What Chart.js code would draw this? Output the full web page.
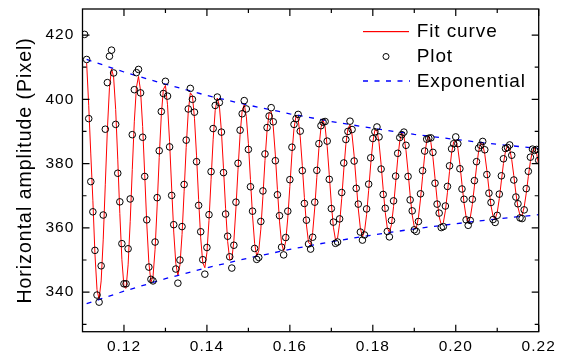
<!DOCTYPE html>
<html>
<head>
<meta charset="utf-8">
<script src="https://cdn.jsdelivr.net/npm/chart.js@4.4.1/dist/chart.umd.min.js"></script>
<style>
html,body{margin:0;padding:0;background:#ffffff;}
#wrap{width:567px;height:356px;}
</style>
</head>
<body>
<div id="wrap"><canvas id="c" width="567" height="356"></canvas></div>
<script>
// ---- data ----
const PLOT_T0 = 0.1105;   // time of first measured sample (s)
const FIT_T0 = 0.111;     // time where the fit curve starts (s)
const SAMPLE_DT = 0.0005; // sampling interval (s)

const plotY = [
  420.2,412.4,394.0,374.4,365.0,353.0,339.1,336.9,348.2,
  364.0,390.7,405.2,413.4,415.3,408.2,392.2,377.0,368.1,355.1,
  342.6,342.6,353.5,369.0,389.0,403.0,408.3,409.3,402.0,388.2,
  376.0,362.5,347.8,344.0,343.5,355.6,369.4,384.0,396.2,401.8,
  405.6,401.0,385.2,370.1,361.0,347.2,342.8,350.0,360.4,373.5,
  387.3,397.0,403.4,400.0,396.0,380.6,367.0,358.8,350.1,345.6,
  353.9,364.1,377.5,390.9,398.1,400.7,399.0,389.8,377.2,364.3,
  357.4,351.0,347.5,354.6,368.0,380.1,390.4,395.5,399.6,397.0,
  384.4,372.8,365.2,353.6,350.2,350.8,362.0,371.5,383.0,391.2,
  394.8,397.4,393.0,380.9,370.3,363.8,354.0,351.6,357.0,365.2,
  375.0,385.1,392.2,394.0,395.3,390.1,377.8,367.6,362.4,355.0,
  353.4,357.1,368.0,377.9,386.2,391.8,392.9,393.1,387.0,375.1,
  366.0,361.8,355.2,355.6,362.8,371.0,380.2,387.5,390.0,393.2,
  390.6,380.8,372.3,367.4,358.7,356.2,357.8,365.9,373.6,381.8,
  387.8,389.9,391.4,388.3,378.3,370.4,366.1,358.9,357.2,362.3,
  368.4,376.1,383.2,388.1,389.0,389.8,385.7,376.0,368.7,365.3,
  359.4,358.9,362.0,370.6,377.8,383.9,387.6,387.9,388.0,383.5,
  373.9,367.4,364.6,360.1,360.4,366.8,372.9,379.3,384.6,386.2,
  388.3,386.2,378.4,372.1,368.9,362.5,360.8,362.3,368.9,374.7,
  380.6,384.8,385.7,386.9,384.3,376.6,370.8,367.9,362.6,361.7,
  363.9,370.5,376.2,381.5,384.7,385.0,385.8,382.6,374.9,369.6,
  367.5,363.1,362.9,365.6,372.2,377.6,382.0,384.5,384.1,384.4,
  381.0
];

const fitY = [
  411.3,398.0,383.0,368.6,351.9,340.8,337.8,343.5,
  356.5,373.6,390.6,403.6,409.5,407.0,396.8,381.4,364.5,350.1,
  341.7,341.2,348.5,361.9,378.1,393.2,403.7,407.1,402.7,391.6,
  376.6,361.2,349.2,343.2,344.8,353.3,366.8,381.9,395.0,403.1,
  404.3,398.3,386.8,372.4,358.7,348.9,345.2,348.5,357.9,371.2,
  385.0,396.1,402.0,401.2,394.1,382.4,368.9,356.9,349.2,347.6,
  352.3,362.3,375.0,387.4,396.6,400.4,398.0,390.0,378.5,366.1,
  355.8,350.1,350.2,356.0,366.2,378.2,389.1,396.4,398.4,394.7,
  386.2,375.0,363.8,355.2,351.3,352.9,359.6,369.8,380.9,390.3,
  395.9,396.2,391.4,382.7,372.0,362.1,355.2,352.9,355.8,363.1,
  372.9,383.0,391.0,394.9,393.9,388.3,379.4,369.5,360.9,355.5,
  354.8,358.6,366.2,375.7,384.7,391.2,393.6,391.4,385.3,376.6,
  367.5,360.2,356.3,356.8,361.4,369.1,378.0,385.9,390.9,392.0,
  388.9,382.4,374.1,365.9,359.9,357.3,358.9,364.1,371.7,379.9,
  386.6,390.4,390.3,386.5,379.8,372.0,364.8,359.9,358.6,361.0,
  366.6,374.0,381.4,387.0,389.6,388.5,384.1,377.5,370.2,364.0,
  360.3,360.0,363.2,369.0,375.9,382.5,387.0,388.5,386.6,381.9,
  375.4,368.8,363.5,361.0,361.6,365.3,371.1,377.6,383.3,386.8,
  387.3,384.8,379.8,373.6,367.7,363.4,361.8,363.2,367.3,373.0,
  378.9,383.7,386.3,386.0,382.9,377.9,372.1,366.9,363.5,362.8,
  364.8,369.1,374.6,380.0,383.9,385.6,384.6,381.2,376.2,370.8,
  366.4,363.9,363.9,366.5,370.8,376.0,380.7,383.9,384.8,383.2,
  379.5
];

const envT      = [0.111,0.12,0.13,0.14,0.15,0.16,0.17,0.18,0.19,0.20,0.21,0.22];
const envTop    = [412.4,408.5,404.7,401.2,398.2,395.5,393.1,391.0,389.1,387.5,386.0,384.7];
const envBottom = [336.4,340.3,344.2,347.6,350.6,353.3,355.7,357.8,359.7,361.3,362.8,364.1];

const xTicks = [0.12,0.14,0.16,0.18,0.20,0.22];
const xMinor = [0.13,0.15,0.17,0.19,0.21];
const yTicks = [340,360,380,400,420];
const yMinor = [330,350,370,390,410];

const X_MIN = 0.11, X_MAX = 0.22, Y_MIN = 327.7, Y_MAX = 428.1;
const legendItems = ['Fit curve','Plot','Exponential'];
const yTitle = 'Horizontal amplitude (Pixel)';

// ---- build points ----
const plotPts = plotY.map((v,i)=>({x: PLOT_T0 + SAMPLE_DT*i, y: v}));
const fitPts  = fitY.map((v,i)=>({x: FIT_T0 + SAMPLE_DT*i, y: v}));
const topPts  = envT.map((t,i)=>({x: t, y: envTop[i]}));
const botPts  = envT.map((t,i)=>({x: t, y: envBottom[i]}));

const FONT = '"Liberation Sans", Arial, Helvetica, sans-serif';
const RED = 'rgb(255,0,0)', BLUE = 'rgb(0,0,255)';

const framePlugin = {
  id: 'frameTicks',
  beforeLayout(chart){ chart.ctx.letterSpacing = '1px'; },
  beforeDraw(chart){ chart.ctx.letterSpacing = '1px'; },
  afterDatasetsDraw(chart){
    const {ctx, chartArea: a, scales: {x, y}} = chart;
    ctx.save();
    ctx.strokeStyle = '#000';
    ctx.lineWidth = 1.3;
    ctx.strokeRect(a.left, a.top, a.right - a.left, a.bottom - a.top);
    ctx.lineWidth = 1.2;
    ctx.beginPath();
    const vx = (v, len) => { const p = x.getPixelForValue(v);
      ctx.moveTo(p, a.bottom); ctx.lineTo(p, a.bottom - len);
      ctx.moveTo(p, a.top); ctx.lineTo(p, a.top + len); };
    const vy = (v, len) => { const p = y.getPixelForValue(v);
      ctx.moveTo(a.left, p); ctx.lineTo(a.left + len, p);
      ctx.moveTo(a.right, p); ctx.lineTo(a.right - len, p); };
    xTicks.forEach(v => vx(v, 7)); xMinor.forEach(v => vx(v, 4));
    yTicks.forEach(v => vy(v, 7)); yMinor.forEach(v => vy(v, 4));
    ctx.stroke();
    ctx.restore();
  },
  afterDraw(chart){
    const {ctx, chartArea: a} = chart;
    const x0 = Math.round(a.right - 175.4);   // start of legend symbol
    const tx = a.right - 122;                  // start of legend text
    const rows = [a.top + 22, a.top + 47.5, a.top + 72];
    ctx.save();
    ctx.setLineDash([]);
    // Fit curve symbol: solid red line
    ctx.fillStyle = RED;
    ctx.fillRect(x0, Math.round(rows[0]), 46, 1.2);
    // Plot symbol: open circle
    ctx.strokeStyle = '#000'; ctx.lineWidth = 1;
    ctx.beginPath(); ctx.arc(x0 + 23, rows[1], 3, 0, Math.PI*2); ctx.stroke();
    // Exponential symbol: blue dashes
    ctx.strokeStyle = BLUE; ctx.lineWidth = 1.3; ctx.setLineDash([5, 6.5]);
    ctx.beginPath(); ctx.moveTo(x0, rows[2]); ctx.lineTo(x0 + 47, rows[2]); ctx.stroke();
    ctx.setLineDash([]);
    // texts
    ctx.font = '19px ' + FONT;
    ctx.letterSpacing = '0.9px';
    ctx.textAlign = 'left';
    ctx.textBaseline = 'middle';
    ctx.fillStyle = '#000';
    ctx.fillText(legendItems[0], tx, rows[0] + 0.5);
    ctx.fillText(legendItems[1], tx, rows[1] + 0.5);
    ctx.fillText(legendItems[2], tx, rows[2] + 0.5);
    ctx.restore();
  }
};

new Chart(document.getElementById('c'), {
  type: 'scatter',
  data: {
    datasets: [
      { label: legendItems[1], data: plotPts, showLine: false, pointStyle: 'circle',
        pointRadius: 3.3, pointHoverRadius: 3.3, borderColor: '#000', backgroundColor: 'rgba(0,0,0,0)',
        pointBorderWidth: 1, borderWidth: 1, order: 1, clip: 0 },
      { label: legendItems[0], data: fitPts, showLine: true, borderColor: RED, borderWidth: 1,
        pointRadius: 0, tension: 0, order: 3, clip: 0 },
      { label: legendItems[2], data: topPts, showLine: true, borderColor: BLUE, borderWidth: 1.3,
        borderDash: [5, 6.5], pointRadius: 0, tension: 0, order: 2, clip: 0 },
      { label: legendItems[2] + ' (lower)', data: botPts, showLine: true, borderColor: BLUE, borderWidth: 1.3,
        borderDash: [5, 6.5], pointRadius: 0, tension: 0, order: 2, clip: 0 }
    ]
  },
  options: {
    responsive: false,
    animation: false,
    devicePixelRatio: 1,
    layout: { padding: { left: 0, top: 9, right: 28.3, bottom: 0 } },
    plugins: { legend: { display: false }, tooltip: { enabled: false }, title: { display: false } },
    events: [],
    scales: {
      x: {
        type: 'linear', min: X_MIN, max: X_MAX,
        grid: { display: false, drawTicks: false }, border: { display: false },
        afterBuildTicks: s => { s.ticks = xTicks.map(v => ({ value: v })); },
        afterFit: s => { s.height = 24.3; s.paddingLeft = 0; s.paddingRight = 0; },
        ticks: { color: '#000', padding: 6, font: { family: FONT, size: 15.5 },
                 callback: v => Number(v).toFixed(2), maxRotation: 0, autoSkip: false }
      },
      y: {
        type: 'linear', min: Y_MIN, max: Y_MAX,
        grid: { display: false, drawTicks: false }, border: { display: false },
        afterBuildTicks: s => { s.ticks = yTicks.map(v => ({ value: v })); },
        afterFit: s => { s.width = 82.5; s.paddingTop = 0; s.paddingBottom = 0; },
        ticks: { color: '#000', padding: 8.2, font: { family: FONT, size: 15.5 },
                 callback: v => String(Math.round(v)) },
        title: { display: true, text: yTitle, color: '#000',
                 font: { family: FONT, size: 19.5 }, padding: { top: 13.9, bottom: 0 } }
      }
    }
  },
  plugins: [framePlugin]
});
</script>
</body>
</html>
